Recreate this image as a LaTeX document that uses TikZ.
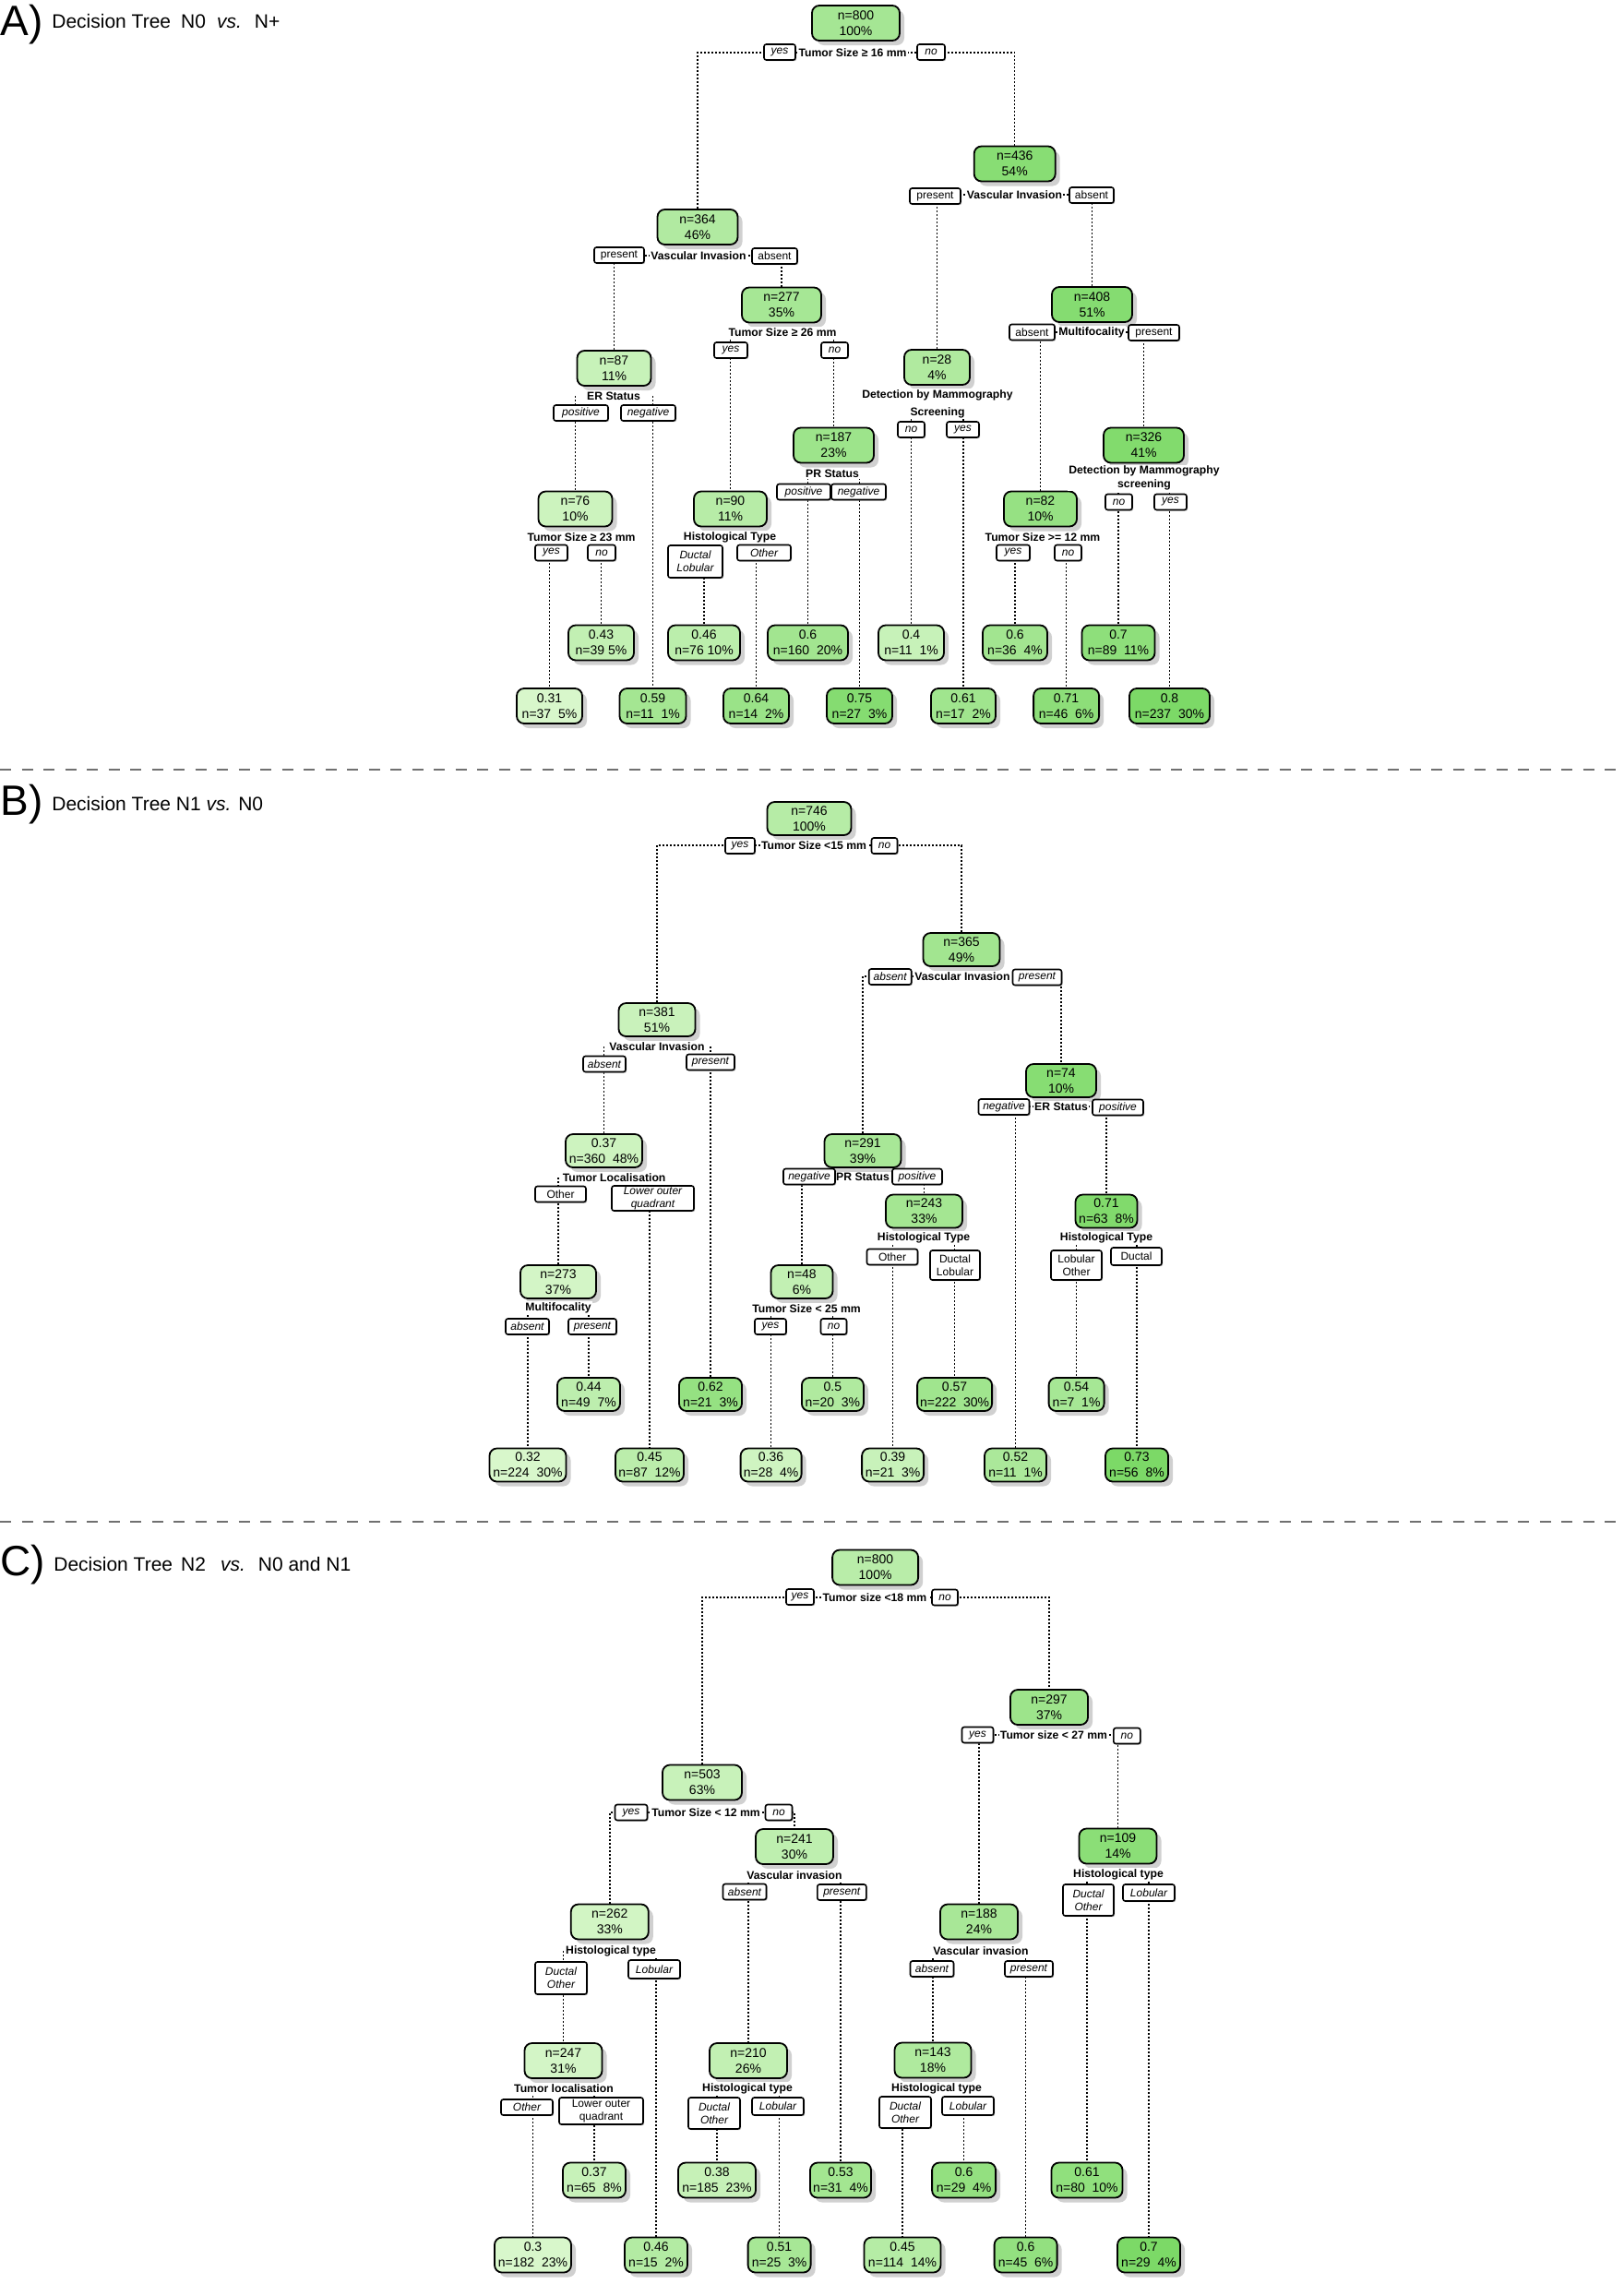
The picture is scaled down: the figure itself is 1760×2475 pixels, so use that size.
\documentclass[tikz,border=0pt]{standalone}
\usepackage{fontspec}
\setmainfont{Liberation Sans}
\usetikzlibrary{shadows,backgrounds}
\definecolor{glt}{HTML}{D8F7CB}
\definecolor{gdk}{HTML}{7CD967}
\definecolor{sepgray}{HTML}{707070}
\newcommand\myNF{\fontsize{7pt}{8.5pt}\selectfont}
\newcommand\mySF{\fontsize{6.1pt}{7.5pt}\selectfont\bfseries}
\newcommand\myLF{\fontsize{6pt}{7pt}\selectfont}
\begin{document}
\begin{tikzpicture}[x=0.5pt,y=-0.5pt,
  tn/.style 2 args={draw=black, line width=0.9pt, rounded corners=4pt,
    minimum width=#1*0.5pt, minimum height=19pt, inner sep=0pt, align=center,
    font=\myNF, fill=gdk!#2!glt,
    drop shadow={shadow xshift=2.5pt, shadow yshift=-2.5pt, fill=black!30, opacity=0.6}},
  bh/.style={minimum height=18pt},
  lu/.style 2 args={draw=black, fill=white, line width=0.8pt, rounded corners=1.2pt,
    minimum width=#1*0.5pt, minimum height=#2*0.5pt, inner sep=0pt, align=center,
    font=\myLF,
    drop shadow={shadow xshift=0.6pt, shadow yshift=-0.6pt, fill=black!40, opacity=0.7}},
  li/.style 2 args={lu={#1}{#2}, font=\myLF\itshape},
  sp/.style={fill=white, inner sep=0.6pt, font=\mySF, align=center},
  conn/.style={line width=0.75pt, dash pattern=on 1pt off 1pt},
  sep/.style={sepgray, line width=1pt, dash pattern=on 6pt off 5.75pt},
  ttl/.style={anchor=base west, inner sep=0pt, font=\fontsize{23pt}{27pt}\selectfont},
  sub/.style={anchor=base west, inner sep=0pt, font=\fontsize{10.5pt}{12pt}\selectfont}]
\useasboundingbox (0,0) rectangle (1760,2475);
\begin{pgfonlayer}{background}
\fill[white] (0,0) rectangle (1760,2475);
\end{pgfonlayer}

% ---------- titles and separators
\node[ttl] (tA) at (0,38) {A)};
\node[sub] (sA) at (56,30) {Decision Tree\hspace{5.5pt}N0\hspace{6pt}\textit{vs.}\hspace{7pt}N+};
\node[ttl] (tB) at (0,883) {B)};
\node[sub] (sB) at (56,878) {Decision Tree N1 \textit{vs.} N0};
\node[ttl] (tC) at (0,1707) {C)};
\node[sub] (sC) at (58,1702) {Decision Tree\hspace{4.5pt}N2\hspace{8pt}\textit{vs.}\hspace{7pt}N0 and N1};
\draw[sep] (0,834) -- (1760,834);
\draw[sep] (0,1649) -- (1760,1649);

% ---------- Panel A
\node[tn={95}{55}] (A0) at (927.5,25) {n=800\\100\%};
\node[sp] (A0s) at (924,57) {Tumor Size ≥ 16 mm};
\node[li={34}{17}] (A0l) at (845,56.5) {yes};
\node[li={30}{17}] (A0r) at (1009,56.5) {no};
\node[tn={87}{42}] (A1) at (756,246) {n=364\\46\%};
\node[sp] (A1s) at (757,277) {Vascular Invasion};
\node[lu={54}{17}] (A1l) at (671,276.5) {present};
\node[lu={49}{17}] (A1r) at (839.5,277.5) {absent};
\node[tn={80}{18}] (A11) at (665.5,399) {n=87\\11\%};
\node[sp] (A11s) at (665,429) {ER Status};
\node[li={59}{17}] (A11l) at (629.5,447.5) {positive};
\node[li={59}{17}] (A11r) at (702.5,447.5) {negative};
\node[tn={80}{13}] (A111) at (623.5,551.5) {n=76\\10\%};
\node[sp] (A111s) at (630,582) {Tumor Size ≥ 23 mm};
\node[li={35}{17}] (A111l) at (597.5,599) {yes};
\node[li={30}{17}] (A111r) at (652,599) {no};
\node[tn={71}{0}] (A1111) at (595.5,765) {0.31\\n=37~~5\%};
\node[tn={71}{24}] (A1112) at (651.5,696.5) {0.43\\n=39 5\%};
\node[tn={72}{57}] (A112) at (707.5,765) {0.59\\n=11~~1\%};
\node[tn={86}{54}] (A12) at (847,330.5) {n=277\\35\%};
\node[sp] (A12s) at (848,360) {Tumor Size ≥ 26 mm};
\node[li={36}{17}] (A12l) at (792,379.5) {yes};
\node[li={29}{17}] (A12r) at (904.5,379.5) {no};
\node[tn={79}{36}] (A121) at (791.5,551.5) {n=90\\11\%};
\node[sp] (A121s) at (791,582) {Histological Type};
\node[li={59}{35}] (A121l) at (753.5,608.5) {Ductal\\Lobular};
\node[li={58}{17}] (A121r) at (828,599) {Other};
\node[tn={78}{31}] (A1211) at (763,696.5) {0.46\\n=76 10\%};
\node[tn={71}{67}] (A1212) at (819.5,765) {0.64\\n=14~~2\%};
\node[tn={87}{64}] (A122) at (903.5,482.5) {n=187\\23\%};
\node[sp] (A122s) at (902,513.5) {PR Status};
\node[li={58}{17}] (A122l) at (871,533) {positive};
\node[li={59}{17}] (A122r) at (930.5,533) {negative};
\node[tn={87}{59}] (A1221) at (875.5,696.5) {0.6\\n=160~~20\%};
\node[tn={71}{90}] (A1222) at (931.5,765) {0.75\\n=27~~3\%};
\node[tn={88}{87}] (A2) at (1099.7,177.5) {n=436\\54\%};
\node[sp] (A2s) at (1099.5,211) {Vascular Invasion};
\node[lu={55}{17}] (A2l) at (1013.5,212.5) {present};
\node[lu={48}{17}] (A2r) at (1183,211.5) {absent};
\node[tn={71}{44}] (A21) at (1015.5,398) {n=28\\4\%};
\node[sp] (A21s) at (1016,437.5) {Detection by Mammography\\[2pt]Screening};
\node[li={29}{17}] (A21l) at (987.5,465.5) {no};
\node[li={35}{17}] (A21r) at (1043.5,465.5) {yes};
\node[tn={71}{18}] (A211) at (987.5,696.5) {0.4\\n=11~~1\%};
\node[tn={70}{61}] (A212) at (1044,765) {0.61\\n=17~~2\%};
\node[tn={87}{90}] (A22) at (1183.5,330) {n=408\\51\%};
\node[sp] (A22s) at (1183,360) {Multifocality};
\node[lu={49}{17}] (A22l) at (1118.5,360) {absent};
\node[lu={55}{17}] (A22r) at (1250.5,360.5) {present};
\node[tn={79}{72}] (A221) at (1127.5,551.5) {n=82\\10\%};
\node[sp] (A221s) at (1130,582) {Tumor Size >= 12 mm};
\node[li={36}{17}] (A221l) at (1098,599) {yes};
\node[li={29}{17}] (A221r) at (1157.5,599) {no};
\node[tn={70}{59}] (A2211) at (1100,696.5) {0.6\\n=36~~4\%};
\node[tn={71}{82}] (A2212) at (1155.6,765) {0.71\\n=46~~6\%};
\node[tn={87}{94}] (A222) at (1239.5,482.5) {n=326\\41\%};
\node[sp] (A222s) at (1240,518) {Detection by Mammography\\screening};
\node[li={29}{17}] (A222l) at (1212.5,544) {no};
\node[li={35}{17}] (A222r) at (1268.5,544) {yes};
\node[tn={79}{80}] (A2221) at (1212,696.5) {0.7\\n=89~~11\%};
\node[tn={87}{100}] (A2222) at (1267.5,765) {0.8\\n=237~~30\%};

% ---------- Panel B
\node[tn={91}{37},bh] (B0) at (877,887) {n=746\\100\%};
\node[sp] (B0s) at (882,916) {Tumor Size <15 mm};
\node[li={32}{17}] (B0l) at (802,916.5) {yes};
\node[li={28}{17}] (B0r) at (958.5,916.5) {no};
\node[tn={83}{16},bh] (B1) at (712,1105) {n=381\\51\%};
\node[sp] (B1s) at (712,1134) {Vascular Invasion};
\node[li={46}{17}] (B1l) at (655,1153) {absent};
\node[li={52}{17}] (B1r) at (770,1151) {present};
\node[tn={83}{12},bh] (B11) at (654.5,1247) {0.37\\n=360~~48\%};
\node[sp] (B11s) at (665.6,1276) {Tumor Localisation};
\node[lu={55}{17}] (B11l) at (607.5,1294) {Other};
\node[li={89}{27}] (B11r) at (707.5,1298.5) {Lower outer\\quadrant};
\node[tn={82}{5},bh] (B111) at (605,1389) {n=273\\37\%};
\node[sp] (B111s) at (605,1417) {Multifocality};
\node[li={47}{17}] (B111l) at (571.5,1437.5) {absent};
\node[li={52}{17}] (B111r) at (642,1437.5) {present};
\node[tn={83}{0},bh] (B1111) at (572,1587.5) {0.32\\n=224~~30\%};
\node[tn={68}{29},bh] (B1112) at (638,1511) {0.44\\n=49~~7\%};
\node[tn={74}{32},bh] (B112) at (704,1587.5) {0.45\\n=87~~12\%};
\node[tn={68}{73},bh] (B12) at (770,1511) {0.62\\n=21~~3\%};
\node[tn={83}{59},bh] (B2) at (1042,1029) {n=365\\49\%};
\node[sp] (B2s) at (1043,1058) {Vascular Invasion};
\node[li={46}{17}] (B2l) at (964.7,1058.5) {absent};
\node[li={53}{17}] (B2r) at (1124,1059) {present};
\node[tn={83}{52},bh] (B21) at (935,1247) {n=291\\39\%};
\node[sp] (B21s) at (935,1275) {PR Status};
\node[li={56}{17}] (B21l) at (877,1275) {negative};
\node[li={54}{17}] (B21r) at (994,1275) {positive};
\node[tn={67}{24},bh] (B211) at (869,1389) {n=48\\6\%};
\node[sp] (B211s) at (874,1418) {Tumor Size < 25 mm};
\node[li={34}{17}] (B211l) at (835,1437.5) {yes};
\node[li={28}{17}] (B211r) at (903.5,1437.5) {no};
\node[tn={66}{10},bh] (B2111) at (835.6,1587.5) {0.36\\n=28~~4\%};
\node[tn={67}{44},bh] (B2112) at (902.4,1511) {0.5\\n=20~~3\%};
\node[tn={83}{57},bh] (B212) at (1001.5,1312.5) {n=243\\33\%};
\node[sp] (B212s) at (1001,1341) {Histological Type};
\node[lu={55}{17}] (B212l) at (967,1362) {Other};
\node[lu={54}{32}] (B212r) at (1035,1371) {Ductal\\Lobular};
\node[tn={67}{17},bh] (B2121) at (967.6,1587.5) {0.39\\n=21~~3\%};
\node[tn={81}{61},bh] (B2122) at (1034.6,1511) {0.57\\n=222~~30\%};
\node[tn={76}{88},bh] (B22) at (1150,1171) {n=74\\10\%};
\node[sp] (B22s) at (1150,1199) {ER Status};
\node[li={55}{17}] (B22l) at (1088,1199.5) {negative};
\node[li={55}{17}] (B22r) at (1211.5,1200) {positive};
\node[tn={67}{49},bh] (B221) at (1100.5,1587.5) {0.52\\n=11~~1\%};
\node[tn={67}{95},bh] (B222) at (1199,1312.5) {0.71\\n=63~~8\%};
\node[sp] (B222s) at (1199,1341) {Histological Type};
\node[lu={55}{32}] (B222l) at (1166.5,1371) {Lobular\\Other};
\node[lu={55}{19}] (B222r) at (1231.5,1361.5) {Ductal};
\node[tn={60}{54},bh] (B2221) at (1166.6,1511) {0.54\\n=7~~1\%};
\node[tn={68}{100},bh] (B2222) at (1232,1587.5) {0.73\\n=56~~8\%};

% ---------- Panel C
\node[tn={93}{34}] (C0) at (948.6,1698.5) {n=800\\100\%};
\node[sp] (C0s) at (948,1731) {Tumor size <18 mm};
\node[li={30}{17}] (C0l) at (867,1730.5) {yes};
\node[li={28}{17}] (C0r) at (1024,1731) {no};
\node[tn={86}{17}] (C1) at (761,1931.5) {n=503\\63\%};
\node[sp] (C1s) at (765,1964) {Tumor Size < 12 mm};
\node[li={35}{17}] (C1l) at (684,1964) {yes};
\node[li={29}{17}] (C1r) at (844,1964) {no};
\node[tn={84}{7}] (C11) at (660.8,2082.5) {n=262\\33\%};
\node[sp] (C11s) at (662,2114) {Histological type};
\node[li={56}{35}] (C11l) at (608,2143.5) {Ductal\\Other};
\node[li={56}{20}] (C11r) at (709,2134) {Lobular};
\node[tn={84}{5}] (C111) at (610.5,2233) {n=247\\31\%};
\node[sp] (C111s) at (611,2263) {Tumor localisation};
\node[li={56}{17}] (C111l) at (571,2283.5) {Other};
\node[lu={91}{29}] (C111r) at (651.5,2287.5) {Lower outer\\quadrant};
\node[tn={83}{0}] (C1111) at (577.5,2443.5) {0.3\\n=182~~23\%};
\node[tn={68}{18}] (C1112) at (644,2362.5) {0.37\\n=65~~8\%};
\node[tn={68}{40}] (C112) at (711,2443.5) {0.46\\n=15~~2\%};
\node[tn={84}{28}] (C12) at (861,2001) {n=241\\30\%};
\node[sp] (C12s) at (861,2032) {Vascular invasion};
\node[li={47}{17}] (C12l) at (807,2050) {absent};
\node[li={53}{17}] (C12r) at (912.3,2050.5) {present};
\node[tn={84}{24}] (C121) at (811,2233) {n=210\\26\%};
\node[sp] (C121s) at (810,2263) {Histological type};
\node[li={56}{34}] (C121l) at (774,2290) {Ductal\\Other};
\node[li={56}{19}] (C121r) at (843,2282.5) {Lobular};
\node[tn={84}{20}] (C1211) at (777,2362.5) {0.38\\n=185~~23\%};
\node[tn={68}{53}] (C1212) at (844.6,2443.5) {0.51\\n=25~~3\%};
\node[tn={66}{58}] (C122) at (911,2362.5) {0.53\\n=31~~4\%};
\node[tn={84}{64}] (C2) at (1137,1850) {n=297\\37\%};
\node[sp] (C2s) at (1142,1880) {Tumor size < 27 mm};
\node[li={34}{17}] (C2l) at (1059.5,1880) {yes};
\node[li={29}{17}] (C2r) at (1221.3,1881) {no};
\node[tn={84}{52}] (C21) at (1061,2082.5) {n=188\\24\%};
\node[sp] (C21s) at (1063,2114) {Vascular invasion};
\node[li={47}{17}] (C21l) at (1010,2133.5) {absent};
\node[li={52}{17}] (C21r) at (1115,2133.5) {present};
\node[tn={83}{45}] (C211) at (1011,2232.5) {n=143\\18\%};
\node[sp] (C211s) at (1015,2263) {Histological type};
\node[li={56}{34}] (C211l) at (981,2289) {Ductal\\Other};
\node[li={56}{20}] (C211r) at (1049,2282) {Lobular};
\node[tn={83}{38}] (C2111) at (978,2443.5) {0.45\\n=114~~14\%};
\node[tn={69}{75}] (C2112) at (1044.6,2362.5) {0.6\\n=29~~4\%};
\node[tn={68}{75}] (C212) at (1111.6,2443.5) {0.6\\n=45~~6\%};
\node[tn={84}{84}] (C22) at (1211.5,2000.5) {n=109\\14\%};
\node[sp] (C22s) at (1212,2031) {Histological type};
\node[li={55}{34}] (C22l) at (1179.5,2059) {Ductal\\Other};
\node[li={56}{18}] (C22r) at (1245,2051) {Lobular};
\node[tn={77}{78}] (C221) at (1178,2362.5) {0.61\\n=80~~10\%};
\node[tn={68}{100}] (C222) at (1245,2443.5) {0.7\\n=29~~4\%};

% ---------- connectors
\begin{pgfonlayer}{background}
\foreach \s/\l/\r in {A0/A1/A2, A1/A11/A12, A2/A21/A22, A22/A221/A222,
                      B0/B1/B2, B2/B21/B22, B22/B221/B222, B21/B211/B212,
                      C0/C1/C2, C1/C11/C12, C2/C21/C22}
  \draw[conn] (\l.north) |- (\s s.center) -| (\r.north);
\foreach \s/\c in {A11/A111, A11/A112, A111/A1111, A111/A1112, A12/A121, A12/A122,
                   A121/A1211, A121/A1212, A122/A1221, A122/A1222, A21/A211, A21/A212,
                   A221/A2211, A221/A2212, A222/A2221, A222/A2222,
                   B1/B11, B1/B12, B11/B111, B11/B112, B111/B1111, B111/B1112,
                   B211/B2111, B211/B2112, B212/B2121, B212/B2122, B222/B2221, B222/B2222,
                   C12/C121, C12/C122, C11/C111, C11/C112, C111/C1111, C111/C1112,
                   C121/C1211, C121/C1212, C21/C211, C21/C212, C211/C2111, C211/C2112,
                   C22/C221, C22/C222}
  \draw[conn] (\s s.center -| \c.north) -- (\c.north);
\end{pgfonlayer}
\end{tikzpicture}
\end{document}
